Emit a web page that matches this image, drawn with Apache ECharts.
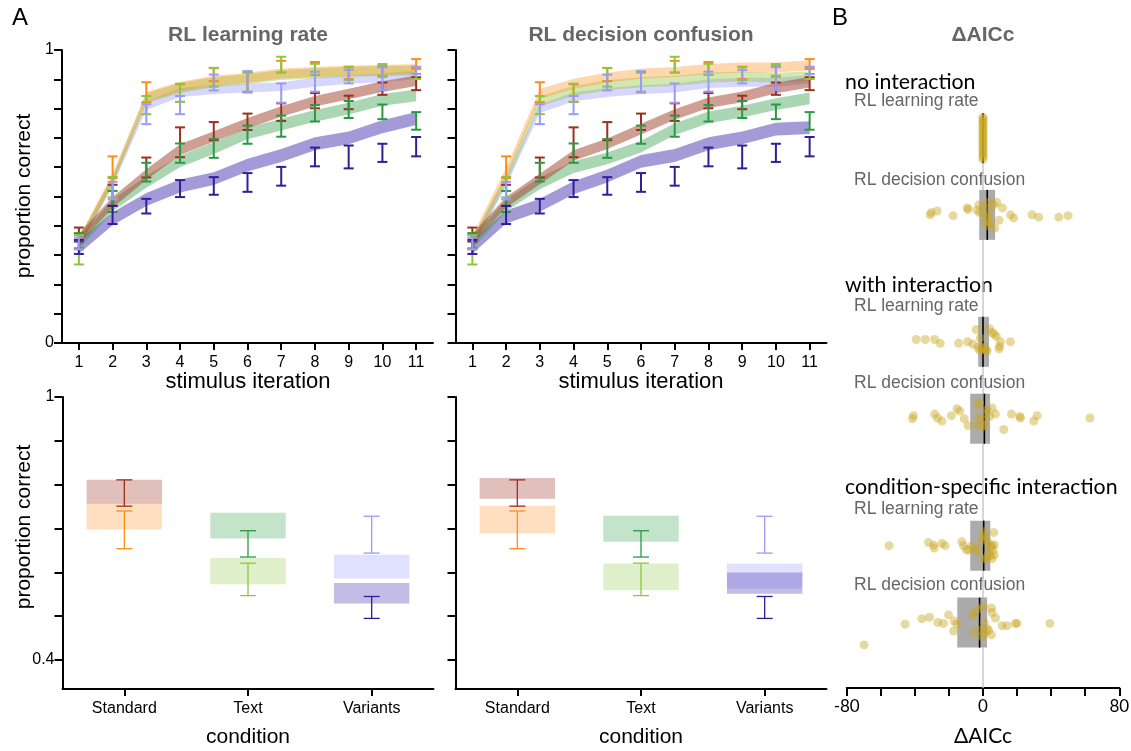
<!DOCTYPE html>
<html>
<head>
<meta charset="utf-8">
<script src="https://cdn.jsdelivr.net/npm/echarts@6/dist/echarts.min.js"></script>
<style>
  html, body { margin: 0; padding: 0; background: #fff; }
  #chart { width: 1131px; height: 751px; }
</style>
</head>
<body>
<div id="chart"></div>
<script>
// ---------------- data ----------------
const iterations = ['1', '2', '3', '4', '5', '6', '7', '8', '9', '10', '11'];
const conditions = ['Standard', 'Text', 'Variants'];

// observed learning curves (mean, SEM) per stimulus iteration
const stdDarkMean  = [0.370, 0.504, 0.599, 0.685, 0.723, 0.755, 0.788, 0.827, 0.821, 0.868, 0.885];
const stdDarkSem   = [0.024, 0.036, 0.034, 0.051, 0.031, 0.028, 0.030, 0.026, 0.023, 0.021, 0.022];
const stdLightMean = [0.345, 0.600, 0.856, 0.853, 0.916, 0.889, 0.943, 0.937, 0.922, 0.929, 0.952];
const stdLightSem  = [0.025, 0.037, 0.034, 0.030, 0.022, 0.034, 0.020, 0.022, 0.021, 0.017, 0.017];
const txtDarkMean  = [0.349, 0.483, 0.583, 0.648, 0.664, 0.711, 0.740, 0.784, 0.797, 0.789, 0.758];
const txtDarkSem   = [0.026, 0.036, 0.032, 0.033, 0.032, 0.031, 0.036, 0.028, 0.029, 0.025, 0.030];
const txtLightMean = [0.318, 0.532, 0.812, 0.854, 0.907, 0.891, 0.950, 0.934, 0.919, 0.930, 0.922];
const txtLightSem  = [0.050, 0.035, 0.031, 0.031, 0.032, 0.033, 0.027, 0.019, 0.022, 0.022, 0.021];
const varDarkMean  = [0.328, 0.437, 0.467, 0.527, 0.536, 0.548, 0.569, 0.635, 0.635, 0.649, 0.670];
const varDarkSem   = [0.024, 0.031, 0.025, 0.029, 0.030, 0.032, 0.032, 0.032, 0.039, 0.031, 0.033];
const varLightMean = [0.340, 0.520, 0.781, 0.812, 0.889, 0.892, 0.853, 0.892, 0.909, 0.902, 0.930];
const varLightSem  = [0.020, 0.030, 0.034, 0.031, 0.027, 0.036, 0.033, 0.034, 0.023, 0.039, 0.012];

// model predictions (band centre) - RL learning rate
const lrStdDark  = [0.355, 0.480, 0.575, 0.660, 0.705, 0.750, 0.790, 0.825, 0.850, 0.875, 0.895];
const lrStdLight = [0.345, 0.560, 0.840, 0.875, 0.895, 0.905, 0.920, 0.925, 0.930, 0.932, 0.935];
const lrTxtDark  = [0.340, 0.470, 0.550, 0.620, 0.665, 0.715, 0.745, 0.775, 0.800, 0.830, 0.845];
const lrTxtLight = [0.340, 0.555, 0.835, 0.870, 0.890, 0.900, 0.915, 0.920, 0.925, 0.928, 0.930];
const lrVarDark  = [0.327, 0.424, 0.490, 0.536, 0.561, 0.607, 0.640, 0.680, 0.700, 0.738, 0.766];
const lrVarLight = [0.340, 0.550, 0.810, 0.855, 0.865, 0.870, 0.875, 0.890, 0.900, 0.905, 0.915];
// model predictions (band centre) - RL decision confusion
const dcStdDark  = [0.355, 0.480, 0.560, 0.640, 0.680, 0.730, 0.780, 0.820, 0.840, 0.870, 0.890];
const dcStdLight = [0.350, 0.580, 0.850, 0.885, 0.905, 0.920, 0.925, 0.935, 0.940, 0.940, 0.948];
const dcTxtDark  = [0.340, 0.470, 0.545, 0.600, 0.630, 0.670, 0.730, 0.770, 0.790, 0.815, 0.835];
const dcTxtLight = [0.340, 0.560, 0.825, 0.860, 0.880, 0.890, 0.895, 0.905, 0.910, 0.905, 0.910];
const dcVarDark  = [0.327, 0.430, 0.470, 0.530, 0.570, 0.620, 0.640, 0.680, 0.700, 0.730, 0.735];
const dcVarLight = [0.340, 0.550, 0.800, 0.840, 0.855, 0.865, 0.870, 0.885, 0.890, 0.890, 0.900];
// band half-widths: stdDark, stdLight, txtDark, txtLight, varDark, varLight
const bandHalf = [0.018, 0.017, 0.020, 0.017, 0.022, 0.015];

// per-condition accuracy (observed mean, SEM), order: Standard, Text, Variants
const condDarkMean  = [0.781, 0.665, 0.520];
const condDarkSem   = [0.030, 0.030, 0.025];
const condLightMean = [0.697, 0.584, 0.686];
const condLightSem  = [0.043, 0.037, 0.042];
// model ranges per condition (low, high)
const lrCondDarkLow   = [0.757, 0.677, 0.529];
const lrCondDarkHigh  = [0.811, 0.736, 0.576];
const lrCondLightLow  = [0.698, 0.573, 0.586];
const lrCondLightHigh = [0.759, 0.633, 0.640];
const dcCondDarkLow   = [0.768, 0.670, 0.551];
const dcCondDarkHigh  = [0.815, 0.729, 0.600];
const dcCondLightLow  = [0.689, 0.559, 0.563];
const dcCondLightHigh = [0.752, 0.620, 0.620];

// ΔAICc per participant, with vertical jitter inside each row
const rowPos = [0, 1, 2.65, 3.65, 5.3, 6.3];
const noIntLrDelta  = [0, 0, 0, 0, 0, 0, 0, 0, 0, 0, 0, 0, 0, 0, 0, 0, 0, 0, 0, 0, 0, 0, 0];
const noIntLrJitter = [-0.27, -0.25, -0.22, -0.2, -0.18, -0.15, -0.13, -0.1, -0.08, -0.05, -0.03, 0, 0.02, 0.05, 0.07, 0.1, 0.12, 0.15, 0.17, 0.2, 0.22, 0.25, 0.28];
const noIntDcDelta  = [-31.0, -30.4, -26.9, -17.6, -9.2, -8.8, -3.5, -2.4, -2.0, 0.4, 1.8, 2.4, 3.1, 3.7, 4.3, 6.3, 6.9, 8.2, 9.4, 11.4, 16.1, 18.0, 28.8, 32.7, 44.5, 50.0, 1.1, 2.7];
const noIntDcJitter = [0.0, -0.03, -0.05, 0.01, -0.09, -0.07, -0.06, -0.13, -0.03, -0.1, 0.01, 0.05, -0.16, -0.03, 0.1, -0.13, 0.17, -0.16, 0.07, -0.09, 0.0, 0.04, 0.0, 0.03, 0.03, 0.01, 0.1, 0.14];
const withIntLrDelta  = [-39.2, -33.9, -28.4, -25.1, -14.3, -9.0, -5.9, -3.9, -3.1, -1.6, -0.6, 0.4, 0.8, 1.8, 2.4, 3.9, 5.3, 6.6, 7.8, 9.4, 9.8, 10.2, 16.1, -2.0];
const withIntLrJitter = [-0.03, -0.03, -0.03, 0.02, 0.02, 0, 0.03, -0.16, 0.07, -0.05, 0.08, 0.1, 0.07, 0.11, 0.12, -0.17, -0.12, -0.1, -0.07, 0.09, 0.06, 0, 0, 0.11];
const withIntDcDelta  = [-41.4, -40.8, -28.4, -26.7, -24.1, -18.6, -15.3, -13.7, -11.0, -8.8, -3.5, -3.1, -2.0, -2.5, -0.6, 1.0, 1.8, 2.4, 3.9, 5.3, 7.3, 12.2, 16.7, 21.6, 22.0, 29.8, 31.8, 62.8, 0];
const withIntDcJitter = [0, -0.04, -0.06, -0.01, 0.03, -0.04, -0.13, -0.1, 0, 0.09, 0.09, -0.18, -0.21, -0.01, 0.01, 0.08, -0.07, -0.12, -0.03, -0.14, -0.06, 0.14, -0.06, -0.03, -0.01, 0.03, -0.04, -0.01, 0.1];
const condLrDelta  = [-55.1, -32.0, -29.0, -28.6, -24.1, -22.2, -12.4, -11.4, -9.8, -8.4, -6.5, -3.9, -3.1, -0.6, 0.4, 0.8, 1.8, 3.3, 4.7, 5.3, 6.3, 6.6, 5.9, 6.6, 4.3, 5.3, 2.4, 0.4, 3.3];
const condLrJitter = [0, -0.04, -0.01, 0.03, -0.03, 0, -0.05, 0, 0.05, 0.06, 0, 0.08, 0.04, -0.07, -0.18, -0.13, -0.09, -0.03, 0.02, 0, -0.17, -0.01, 0.06, 0.12, 0.13, 0.17, 0.16, 0.17, 0.1];
const condDcDelta  = [-69.8, -45.7, -35.9, -31.4, -26.5, -23.2, -20.2, -16.9, -15.3, -17.3, -5.9, -5.1, -3.5, 0, 0.8, 2.4, 3.3, 4.9, 5.3, 7.3, 11.2, 14.1, 19.0, 20.0, 39.2, -5.5, -2.0, -0.6, 4.9, 1.4];
const condDcJitter = [0.29, 0.02, -0.05, -0.07, 0, 0.01, -0.1, -0.02, 0.02, 0.11, -0.1, -0.12, -0.17, -0.21, 0, 0.08, 0.1, -0.19, -0.13, -0.06, 0.04, 0.04, 0.01, 0.01, 0.01, 0.13, 0.1, 0.18, 0.16, 0.13];
// box summaries per row (lower quartile, median, upper quartile)
const boxQ1  = [0, -2.2, -2.8, -7.5, -7.5, -15.1];
const boxMed = [0, 2.5, 0, 0.8, 0.4, -2.0];
const boxQ3  = [0, 7.1, 3.5, 4.1, 4.3, 2.4];

// ---------------- styling ----------------
const SANS = '"Liberation Sans", Arial, Helvetica, sans-serif';
const HUM = 'Lato, "Open Sans", sans-serif';
const keys = ['stdDark', 'stdLight', 'txtDark', 'txtLight', 'varDark', 'varLight'];
const lineColor = {
  stdDark: '#9a3020', stdLight: '#ff8c1a', txtDark: '#2a9944',
  txtLight: '#8cc63f', varDark: '#2e1f9c', varLight: '#9999ff'
};
const bandColor = {
  stdDark: 'rgba(160,64,42,0.5)', stdLight: 'rgba(255,140,26,0.35)', txtDark: 'rgba(42,153,68,0.4)',
  txtLight: 'rgba(140,198,63,0.4)', varDark: 'rgba(74,54,176,0.5)', varLight: 'rgba(153,153,255,0.4)'
};
const boxColor = {
  stdDark: 'rgba(154,48,32,0.3)', stdLight: 'rgba(255,140,26,0.28)', txtDark: 'rgba(42,153,68,0.28)',
  txtLight: 'rgba(140,198,63,0.28)', varDark: 'rgba(74,54,176,0.33)', varLight: 'rgba(153,153,255,0.3)'
};
const obsMean = { stdDark: stdDarkMean, stdLight: stdLightMean, txtDark: txtDarkMean, txtLight: txtLightMean, varDark: varDarkMean, varLight: varLightMean };
const obsSem  = { stdDark: stdDarkSem, stdLight: stdLightSem, txtDark: txtDarkSem, txtLight: txtLightSem, varDark: varDarkSem, varLight: varLightSem };
const lrBands = { stdDark: lrStdDark, stdLight: lrStdLight, txtDark: lrTxtDark, txtLight: lrTxtLight, varDark: lrVarDark, varLight: lrVarLight };
const dcBands = { stdDark: dcStdDark, stdLight: dcStdLight, txtDark: dcTxtDark, txtLight: dcTxtLight, varDark: dcVarDark, varLight: dcVarLight };

const axisLine = { show: true, onZero: false, lineStyle: { color: '#000', width: 2 } };
const axisTick = { show: true, inside: false, length: 8, lineStyle: { color: '#000', width: 2 } };

// ---------------- series builders ----------------
function bandSeries(g, key, centre, half) {
  const stackId = 'band' + g + key;
  return [
    { type: 'line', xAxisIndex: g, yAxisIndex: g, stack: stackId, data: centre.map(v => v - half),
      symbol: 'none', lineStyle: { opacity: 0 }, silent: true, z: 1 },
    { type: 'line', xAxisIndex: g, yAxisIndex: g, stack: stackId, data: centre.map(() => 2 * half),
      symbol: 'none', lineStyle: { opacity: 0 }, areaStyle: { color: bandColor[key], opacity: 1 }, silent: true, z: 1 }
  ];
}

function errorBars(g, colors, mean, sem, capHalf, width, z) {
  return {
    type: 'custom', xAxisIndex: g, yAxisIndex: g, z: z, silent: true,
    data: mean.map((m, i) => [i, m, sem[i]]),
    encode: { x: 0, y: 1 },
    renderItem: function (params, api) {
      const i = api.value(0), m = api.value(1), s = api.value(2);
      const top = api.coord([i, m + s]);
      const bot = api.coord([i, m - s]);
      const stroke = Array.isArray(colors) ? colors[params.dataIndex] : colors;
      const style = { stroke: stroke, lineWidth: width, fill: null };
      return { type: 'group', children: [
        { type: 'line', shape: { x1: top[0], y1: top[1], x2: bot[0], y2: bot[1] }, style: style },
        { type: 'line', shape: { x1: top[0] - capHalf, y1: top[1], x2: top[0] + capHalf, y2: top[1] }, style: style },
        { type: 'line', shape: { x1: bot[0] - capHalf, y1: bot[1], x2: bot[0] + capHalf, y2: bot[1] }, style: style }
      ] };
    }
  };
}

function rangeBoxes(g, colors, low, high) {
  return {
    type: 'custom', xAxisIndex: g, yAxisIndex: g, z: 2, silent: true,
    data: low.map((l, i) => [i, l, high[i]]),
    encode: { x: 0, y: [1, 2] },
    renderItem: function (params, api) {
      const i = api.value(0);
      const a = api.coord([i, api.value(2)]);
      const b = api.coord([i, api.value(1)]);
      const w = api.size([1, 0])[0] * 0.61;
      return { type: 'rect', shape: { x: a[0] - w / 2, y: a[1], width: w, height: b[1] - a[1] },
               style: { fill: colors[params.dataIndex] } };
    }
  };
}

function curvePanel(g, bands) {
  const out = [];
  const drawOrder = ['varLight', 'txtLight', 'stdLight', 'varDark', 'txtDark', 'stdDark'];
  drawOrder.forEach(k => out.push(...bandSeries(g, k, bands[k], bandHalf[keys.indexOf(k)])));
  keys.forEach(k => out.push(errorBars(g, lineColor[k], obsMean[k], obsSem[k], 5, 2, 5)));
  return out;
}

function conditionPanel(g, darkLow, darkHigh, lightLow, lightHigh) {
  const darkKeys = ['stdDark', 'txtDark', 'varDark'];
  const lightKeys = ['stdLight', 'txtLight', 'varLight'];
  return [
    rangeBoxes(g, lightKeys.map(k => boxColor[k]), lightLow, lightHigh),
    rangeBoxes(g, darkKeys.map(k => boxColor[k]), darkLow, darkHigh),
    errorBars(g, lightKeys.map(k => lineColor[k]), condLightMean, condLightSem, 8, 1.3, 6),
    errorBars(g, darkKeys.map(k => lineColor[k]), condDarkMean, condDarkSem, 8, 1.3, 6)
  ];
}

// ΔAICc rows
const rowDeltas  = [noIntLrDelta, noIntDcDelta, withIntLrDelta, withIntDcDelta, condLrDelta, condDcDelta];
const rowJitters = [noIntLrJitter, noIntDcJitter, withIntLrJitter, withIntDcJitter, condLrJitter, condDcJitter];
const BOX_HALF = 0.325;

const aiccSeries = [
  { type: 'line', xAxisIndex: 4, yAxisIndex: 4, data: [[0, rowPos[0] - BOX_HALF], [0, 7.15]], symbol: 'none',
    lineStyle: { color: '#c8c8c8', width: 1.5 }, silent: true, z: 1 },
  { type: 'custom', xAxisIndex: 4, yAxisIndex: 4, z: 2, silent: true,
    data: rowPos.map((r, i) => [boxQ1[i], r, boxQ3[i], boxMed[i]]),
    encode: { x: [0, 2], y: 1 },
    renderItem: function (params, api) {
      const q1 = api.value(0), r = api.value(1), q3 = api.value(2), md = api.value(3);
      const a = api.coord([q1, r - BOX_HALF]);
      const b = api.coord([q3, r + BOX_HALF]);
      const m1 = api.coord([md, r - BOX_HALF]);
      const m2 = api.coord([md, r + BOX_HALF]);
      return { type: 'group', children: [
        { type: 'rect', shape: { x: a[0], y: a[1], width: b[0] - a[0], height: b[1] - a[1] }, style: { fill: '#ababab' } },
        { type: 'line', shape: { x1: m1[0], y1: m1[1], x2: m2[0], y2: m2[1] }, style: { stroke: '#000', lineWidth: 1.6 } }
      ] };
    }
  }
];
rowDeltas.forEach((d, r) => {
  aiccSeries.push({
    type: 'scatter', xAxisIndex: 4, yAxisIndex: 4, z: 4, silent: true,
    symbolSize: 9,
    itemStyle: { color: 'rgba(200,166,34,0.55)' },
    data: d.map((v, i) => [v, rowPos[r] + rowJitters[r][i]])
  });
});

// ---------------- axes ----------------
function catAxis(g, data) {
  return { type: 'category', gridIndex: g, data: data, boundaryGap: true, position: 'bottom',
    axisLine: axisLine, axisTick: Object.assign({ alignWithLabel: true }, axisTick, { length: 7 }),
    axisLabel: { color: '#000', fontFamily: SANS, fontSize: 16, margin: 12 },
    splitLine: { show: false } };
}
function topValAxis(g) {
  return { type: 'value', gridIndex: g, min: 0, max: 1, interval: 0.1,
    axisLine: axisLine, axisTick: axisTick, splitLine: { show: false },
    axisLabel: { show: g === 0, color: '#000', fontFamily: SANS, fontSize: 16, margin: 8,
      formatter: v => (Math.abs(v) < 1e-6 ? '0' : Math.abs(v - 1) < 1e-6 ? '1' : '') } };
}
const yTicks = [0.4, 0.5, 0.6, 0.7, 0.8, 0.9, 1];
const yLabels = [0.4, 1];
function bottomValAxis(g) {
  return { type: 'value', gridIndex: g, min: 0.334, max: 1,
    axisLine: axisLine, splitLine: { show: false },
    axisTick: Object.assign({}, axisTick, { customValues: yTicks }),
    axisLabel: { show: g === 2, customValues: yLabels, color: '#000', fontFamily: SANS, fontSize: 16, margin: 8,
      formatter: v => (Math.abs(v - 1) < 1e-6 ? '1' : String(v)) } };
}

const option = {
  backgroundColor: '#fff',
  animation: false,
  grid: [
    { left: 62, top: 50, width: 371, height: 293, outerBoundsMode: 'none' },
    { left: 455.5, top: 50, width: 371, height: 293, outerBoundsMode: 'none' },
    { left: 62.5, top: 397, width: 371, height: 292, outerBoundsMode: 'none' },
    { left: 455.5, top: 397, width: 371, height: 292, outerBoundsMode: 'none' },
    { left: 846.7, top: 61, width: 272.6, height: 627, outerBoundsMode: 'none' }
  ],
  xAxis: [
    catAxis(0, iterations), catAxis(1, iterations), catAxis(2, conditions), catAxis(3, conditions),
    { type: 'value', gridIndex: 4, min: -80, max: 80, interval: 20, position: 'bottom',
      axisLine: axisLine, axisTick: axisTick, splitLine: { show: false },
      axisLabel: { color: '#000', fontFamily: HUM, fontSize: 17, margin: 10,
        formatter: v => (v === -80 || v === 0 || v === 80 ? String(v) : '') } }
  ],
  yAxis: [
    topValAxis(0), topValAxis(1), bottomValAxis(2), bottomValAxis(3),
    { type: 'value', gridIndex: 4, min: -1, max: 7.15, inverse: true, show: false }
  ],
  series: [].concat(
    curvePanel(0, lrBands),
    curvePanel(1, dcBands),
    conditionPanel(2, lrCondDarkLow, lrCondDarkHigh, lrCondLightLow, lrCondLightHigh),
    conditionPanel(3, dcCondDarkLow, dcCondDarkHigh, dcCondLightLow, dcCondLightHigh),
    aiccSeries
  ),
  graphic: [
    { type: 'text', left: 12, top: 6, style: { text: 'A', font: '24px ' + SANS, fill: '#000' } },
    { type: 'text', left: 832, top: 6, style: { text: 'B', font: '24px ' + SANS, fill: '#000' } },
    { type: 'text', x: 248, y: 35, style: { text: 'RL learning rate', font: 'bold 21px ' + SANS, fill: '#666', align: 'center', verticalAlign: 'middle' } },
    { type: 'text', x: 641, y: 35, style: { text: 'RL decision confusion', font: 'bold 21px ' + SANS, fill: '#666', align: 'center', verticalAlign: 'middle' } },
    { type: 'text', x: 983, y: 35, style: { text: 'ΔAICc', font: 'bold 21px ' + SANS, fill: '#666', align: 'center', verticalAlign: 'middle' } },
    { type: 'text', x: 24, y: 196, rotation: Math.PI / 2, style: { text: 'proportion correct', font: '21px ' + SANS, fill: '#000', align: 'center', verticalAlign: 'middle' } },
    { type: 'text', x: 24, y: 527, rotation: Math.PI / 2, style: { text: 'proportion correct', font: '21px ' + SANS, fill: '#000', align: 'center', verticalAlign: 'middle' } },
    { type: 'text', x: 248, y: 382, style: { text: 'stimulus iteration', font: '22px ' + SANS, fill: '#000', align: 'center', verticalAlign: 'middle' } },
    { type: 'text', x: 641, y: 382, style: { text: 'stimulus iteration', font: '22px ' + SANS, fill: '#000', align: 'center', verticalAlign: 'middle' } },
    { type: 'text', x: 248, y: 737, style: { text: 'condition', font: '21px ' + SANS, fill: '#000', align: 'center', verticalAlign: 'middle' } },
    { type: 'text', x: 641, y: 737, style: { text: 'condition', font: '21px ' + SANS, fill: '#000', align: 'center', verticalAlign: 'middle' } },
    { type: 'text', x: 983, y: 736, style: { text: 'ΔAICc', font: '21px ' + HUM, fill: '#000', align: 'center', verticalAlign: 'middle' } },
    { type: 'text', x: 845, y: 82, style: { text: 'no interaction', font: '21.3px ' + HUM, fill: '#000', verticalAlign: 'middle' } },
    { type: 'text', x: 854, y: 101, style: { text: 'RL learning rate', font: '17.5px ' + SANS, fill: '#666', verticalAlign: 'middle' } },
    { type: 'text', x: 854, y: 180, style: { text: 'RL decision confusion', font: '17.5px ' + SANS, fill: '#666', verticalAlign: 'middle' } },
    { type: 'text', x: 845, y: 285, style: { text: 'with interaction', font: '21.3px ' + HUM, fill: '#000', verticalAlign: 'middle' } },
    { type: 'text', x: 854, y: 306, style: { text: 'RL learning rate', font: '17.5px ' + SANS, fill: '#666', verticalAlign: 'middle' } },
    { type: 'text', x: 854, y: 383, style: { text: 'RL decision confusion', font: '17.5px ' + SANS, fill: '#666', verticalAlign: 'middle' } },
    { type: 'text', x: 845, y: 487, style: { text: 'condition-specific interaction', font: '21.3px ' + HUM, fill: '#000', verticalAlign: 'middle' } },
    { type: 'text', x: 854, y: 509, style: { text: 'RL learning rate', font: '17.5px ' + SANS, fill: '#666', verticalAlign: 'middle' } },
    { type: 'text', x: 854, y: 585, style: { text: 'RL decision confusion', font: '17.5px ' + SANS, fill: '#666', verticalAlign: 'middle' } }
  ]
};

const chart = echarts.init(document.getElementById('chart'));
chart.setOption(option);
</script>
</body>
</html>
